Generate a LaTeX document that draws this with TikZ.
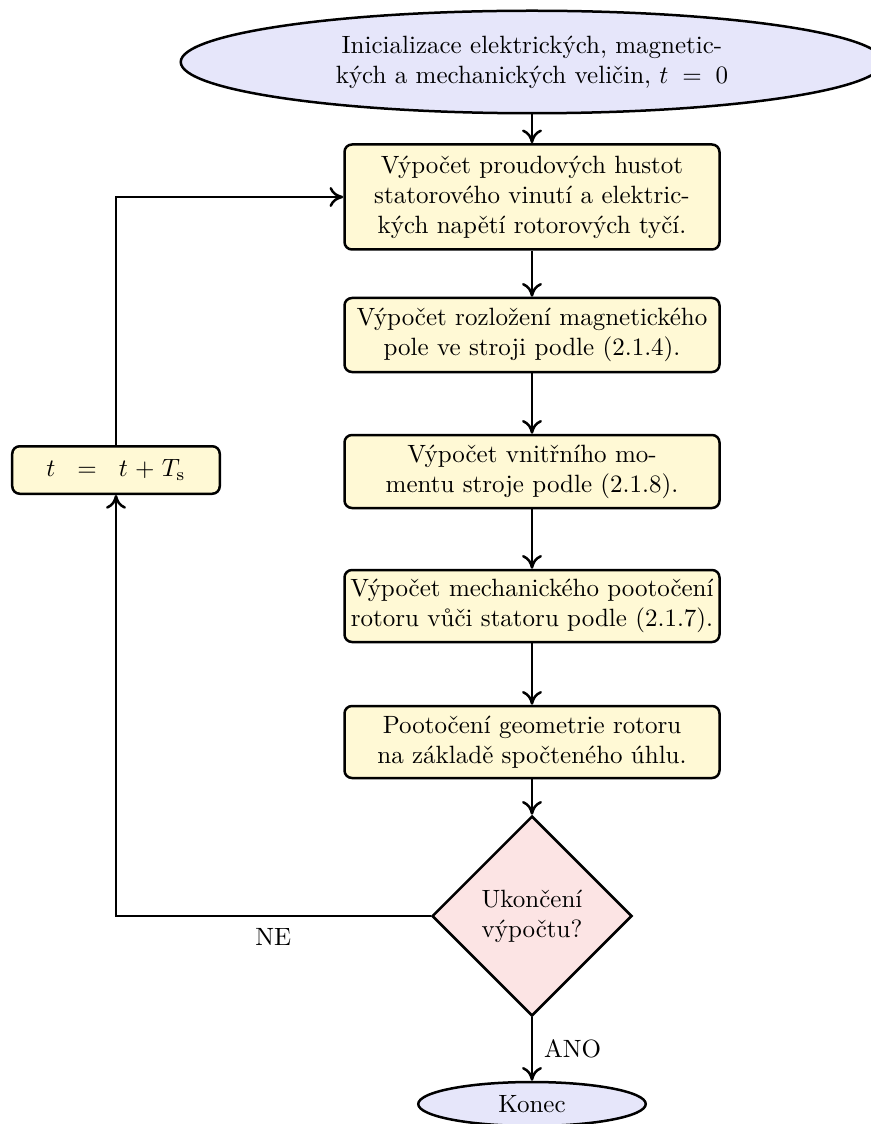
\documentclass[tikz,border=0pt]{standalone}
\usepackage{tikz}
\usepackage{amsmath,amssymb}
\usetikzlibrary{shapes.geometric,arrows.meta}
\definecolor{termfill}{HTML}{E6E6FA}
\definecolor{procfill}{HTML}{FFF9D5}
\definecolor{decfill}{HTML}{FCE4E4}
\tikzset{
  termnode/.style={ellipse, draw, fill=termfill, line width=1pt, inner sep=0pt, align=center},
  procbox/.style={rectangle, draw, fill=procfill, line width=1pt, rounded corners=3pt,
                  minimum width=150pt, text width=146pt, align=center, inner sep=1pt},
  decnode/.style={diamond, draw, fill=decfill, line width=1pt, aspect=1,
                  minimum width=80pt, minimum height=80pt, inner sep=0pt, align=center},
  arr/.style={line width=1pt, -{To[length=5.5pt,width=8pt]}}
}

\begin{document}
\begin{tikzpicture}[x=0.4pt, y=-0.4pt]
\useasboundingbox (0,0) rectangle (871,1124);
% start and end
\node[termnode, minimum width=281pt, minimum height=41pt] (init) at (532,62)
  {Inicializace elektrických, magnetic-\\kých a mechanických veličin, $t\;=\;0$};
\node[termnode, minimum width=91pt, minimum height=17.6pt] (konec) at (532,1104) {Konec};
% computation steps
\node[procbox, minimum height=42pt] (calc1) at (532,197)
  {Výpočet proudových hustot\\statorového vinutí a elektric-\\kých napětí rotorových tyčí.};
\node[procbox, minimum height=29.6pt] (calc2) at (532,335)
  {Výpočet rozložení magnetického\\pole ve stroji podle (2.1.4).};
\node[procbox, minimum height=29.2pt] (calc3) at (532,471.5)
  {Výpočet vnitřního mo-\\mentu stroje podle (2.1.8).};
\node[procbox, minimum height=28.8pt] (calc4) at (532,606)
  {Výpočet mechanického pootočení\\rotoru vůči statoru podle (2.1.7).};
\node[procbox, minimum height=28.8pt] (calc5) at (532,742)
  {Pootočení geometrie rotoru\\na základě spočteného úhlu.};
\node[decnode] (stop) at (532,916) {Ukončení\\výpočtu?};
\node[procbox, minimum width=83pt, text width=79pt, minimum height=19pt] (update) at (116,470)
  {$t\;=\;t+T_{\mathrm{s}}$};
% connectors
\draw[arr] (init) -- (calc1);
\draw[arr] (calc1) -- (calc2);
\draw[arr] (calc2) -- (calc3);
\draw[arr] (calc3) -- (calc4);
\draw[arr] (calc4) -- (calc5);
\draw[arr] (calc5) -- (stop);
\draw[arr] (stop) -- node[right, xshift=1pt] {ANO} (konec);
\draw[arr] (stop.west) -| node[pos=0.25, below, yshift=-1pt] {NE} (update.south);
\draw[arr] (update.north) |- (calc1.west);
\end{tikzpicture}
\end{document}
